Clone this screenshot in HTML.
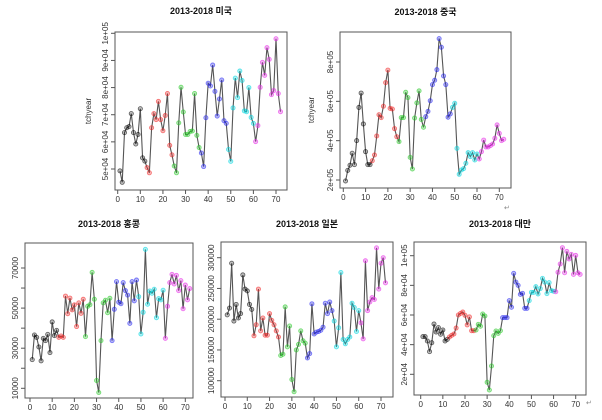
<!DOCTYPE html>
<html><head><meta charset="utf-8"><style>
body{margin:0;background:#fff;width:602px;height:420px;overflow:hidden}
svg{display:block;font-family:"Liberation Sans","Noto Sans CJK KR",sans-serif}
</style></head><body>
<svg id="c" width="602" height="420"></svg>
<script>
const seriesUS=[4.93,4.51,6.34,6.52,6.56,7.04,6.34,5.92,6.27,7.22,5.41,5.29,5.05,4.86,6.52,7.04,6.82,7.49,6.82,6.41,6.97,7.78,5.87,5.52,5.11,4.86,6.70,8.01,7.10,6.27,6.27,6.38,6.40,7.78,6.24,5.79,5.59,5.09,6.89,8.16,8.06,8.83,7.86,6.95,7.58,8.28,6.78,6.68,5.72,5.28,7.25,8.35,7.63,8.61,8.26,7.14,7.11,8.00,6.90,6.68,6.01,6.60,8.01,8.93,8.45,9.47,9.04,7.74,7.89,9.80,7.78,7.11];
const seriesCN=[1.95,2.49,2.75,3.36,2.78,4.0,5.69,6.42,4.85,3.44,2.78,2.78,2.98,3.27,4.24,5.32,5.17,5.75,6.95,7.59,5.64,5.61,4.61,4.20,3.95,5.17,5.17,6.46,6.19,3.15,2.56,5.15,5.92,6.53,5.08,4.68,5.22,5.49,6.03,6.85,7.07,7.61,9.19,8.75,7.29,6.85,5.19,5.36,5.69,5.90,3.61,2.29,2.51,2.58,2.85,3.39,3.19,3.39,3.02,3.32,3.07,3.44,4.03,3.68,3.68,3.75,3.83,4.12,4.80,4.37,4.00,4.07];
const seriesHK=[2.43,3.66,3.54,3.06,2.37,3.49,3.38,3.69,2.78,4.31,3.63,3.89,3.54,3.61,3.54,5.60,4.72,5.50,4.91,5.16,4.08,5.26,4.74,5.44,3.58,5.09,5.17,6.78,5.44,1.39,0.79,3.38,5.26,5.39,4.77,5.49,3.38,4.94,6.32,5.29,5.22,6.27,5.87,5.65,4.24,6.32,5.36,6.40,5.57,3.71,4.79,7.93,5.19,5.85,5.74,5.94,4.52,5.47,5.41,5.89,3.49,5.09,6.27,6.68,6.20,6.63,5.87,6.37,4.97,6.15,5.41,5.97];
const seriesJP=[2.07,2.18,2.91,1.97,2.24,2.02,2.09,2.72,2.49,2.46,2.24,2.16,1.73,1.91,2.49,1.81,2.02,1.74,1.74,2.09,1.98,1.91,1.81,1.71,1.41,1.43,2.20,1.55,1.89,1.02,0.82,1.50,1.59,1.81,1.65,1.61,1.37,1.44,2.25,1.76,1.79,1.80,1.82,1.87,2.26,2.09,2.28,2.14,1.97,1.55,1.86,2.76,1.67,1.60,1.67,1.71,2.26,2.19,1.80,2.14,1.94,1.68,2.95,2.14,2.28,2.35,2.32,3.16,2.49,2.91,3.0,2.59];
const seriesTW=[4.54,4.54,4.25,3.53,4.13,5.39,4.85,5.15,4.70,4.99,4.25,4.36,4.52,4.63,4.72,5.12,6.0,6.11,6.20,5.98,5.33,5.87,4.94,4.94,4.99,5.37,5.24,6.07,5.93,1.46,0.94,2.56,4.61,4.92,4.76,4.94,5.82,5.82,5.82,6.97,6.52,8.81,8.22,8.0,7.39,7.46,6.45,6.45,6.97,7.53,7.53,7.91,7.42,7.78,8.47,8.22,7.44,8.18,7.64,7.60,7.57,8.88,9.44,10.54,8.85,10.29,9.78,10.09,8.74,10.02,8.85,8.74];
const xTicks=[0,10,20,30,40,50,60,70];
const ticksUS=[5,6,7,8,9,10], labelsUS=["5e+04","6e+04","7e+04","8e+04","9e+04","1e+05"];
const ticksCN=[2,4,6,8], labelsCN=["2e+05","4e+05","6e+05","8e+05"];
const ticksHK=[1,2,3,4,5,6,7], labelsHK=["10000","","30000","","50000","","70000"];
const ticksJP=[1,1.5,2,2.5,3], labelsJP=["100000","150000","200000","250000","300000"];
const ticksTW=[2,4,6,8,10], labelsTW=["2e+04","4e+04","6e+04","8e+04","1e+05"];
const titles=["2013-2018 미국","2013-2018 중국","2013-2018 홍콩","2013-2018 일본","2013-2018 대만"];
const fills=["rgba(0,0,0,0.25)","rgba(240,40,40,0.35)","rgba(40,200,40,0.35)","rgba(40,40,240,0.35)","rgba(0,220,230,0.35)","rgba(230,40,230,0.35)"];
const strokes=["rgba(0,0,0,0.6)","rgba(240,40,40,0.6)","rgba(40,200,40,0.6)","rgba(40,40,240,0.6)","rgba(0,210,220,0.6)","rgba(230,40,230,0.6)"];
const NS="http://www.w3.org/2000/svg";
const svg=document.getElementById('c');
function mk(t,a,p){const e=document.createElementNS(NS,t);for(const k in a)e.setAttribute(k,a[k]);(p||svg).appendChild(e);return e;}
const panels=[
 {d:seriesUS,t:ticksUS,l:labelsUS,box:[115,32,287,190],x0:117.7,x70:276,yA:[10,33.3],yB:[5,169],ty:14,ylab:"tchyear",ylx:91,name:"usa"},
 {d:seriesCN,t:ticksCN,l:labelsCN,box:[340,32,511,188],x0:343.3,x70:499.3,yA:[8,62],yB:[2,180],ty:15,ylab:"tchyear",ylx:314,name:"china"},
 {d:seriesHK,t:ticksHK,l:labelsHK,box:[25,243,193,398],x0:30,x70:185.3,yA:[7,268],yB:[1,388.3],ty:227,name:"hongkong"},
 {d:seriesJP,t:ticksJP,l:labelsJP,box:[221,242,393,397],x0:225,x70:381,yA:[3,257.7],yB:[1,380.7],ty:227,name:"japan"},
 {d:seriesTW,t:ticksTW,l:labelsTW,box:[414,242,586,395],x0:420.7,x70:575.7,yA:[10,255.7],yB:[2,374.3],ty:227,name:"taiwan"}
];
panels.forEach((p,i)=>{
 const g=mk('g',{});
 
 
 const [L,T,R,B]=p.box;
 const xs=v=>p.x0+(p.x70-p.x0)*v/70;
 const ys=v=>p.yB[1]+(p.yA[1]-p.yB[1])*(v-p.yB[0])/(p.yA[0]-p.yB[0]);
 const tt=mk('text',{x:(L+R)/2,y:p.ty,'text-anchor':'middle','font-size':'9','font-weight':'bold',fill:'#111'},g);tt.textContent=titles[i];
 
 const box=mk('rect',{x:L,y:T,width:R-L,height:B-T,fill:'none',stroke:'#555','stroke-width':1},g);
 
 xTicks.forEach(v=>{const x=xs(v);mk('line',{x1:x,x2:x,y1:B,y2:B+4,stroke:'#555'},g);
  const t=mk('text',{x:x,y:B+12,'text-anchor':'middle','font-size':'8',fill:'#333'},g);t.textContent=v;
  });
 mk('line',{x1:xs(0),x2:xs(70),y1:B,y2:B,stroke:'#555'},g);
 p.t.forEach((v,k)=>{const y=ys(v);mk('line',{x1:L-4,x2:L,y1:y,y2:y,stroke:'#555'},g);
  if(p.l[k]){const t=mk('text',{x:L-7,y:y,'text-anchor':'middle','font-size':'8',fill:'#333',transform:`rotate(-90 ${L-7} ${y})`},g);t.textContent=p.l[k];
  }});
 if(p.ylab){const t=mk('text',{x:p.ylx,y:(T+B)/2,'text-anchor':'middle','font-size':'8',fill:'#333',transform:`rotate(-90 ${p.ylx} ${(T+B)/2})`},g);t.textContent=p.ylab;
  }
 const pts=p.d.map((v,k)=>[xs(k+1),ys(v)]);
 const line=mk('polyline',{points:pts.map(q=>q.join(',')).join(' '),fill:'none',stroke:'#555','stroke-width':1.1},g);
 
 pts.forEach((q,k)=>{const c=Math.floor(k/12);const e=mk('circle',{cx:q[0],cy:q[1],r:2.1,fill:fills[c],stroke:strokes[c],'stroke-width':0.8},g);
  });
});
const m1=mk('text',{x:504,y:210,'font-size':'7',fill:'#888'});m1.textContent='↵';
const m2=mk('text',{x:586,y:405,'font-size':'7',fill:'#888'});m2.textContent='↵';
</script>
</body></html>
